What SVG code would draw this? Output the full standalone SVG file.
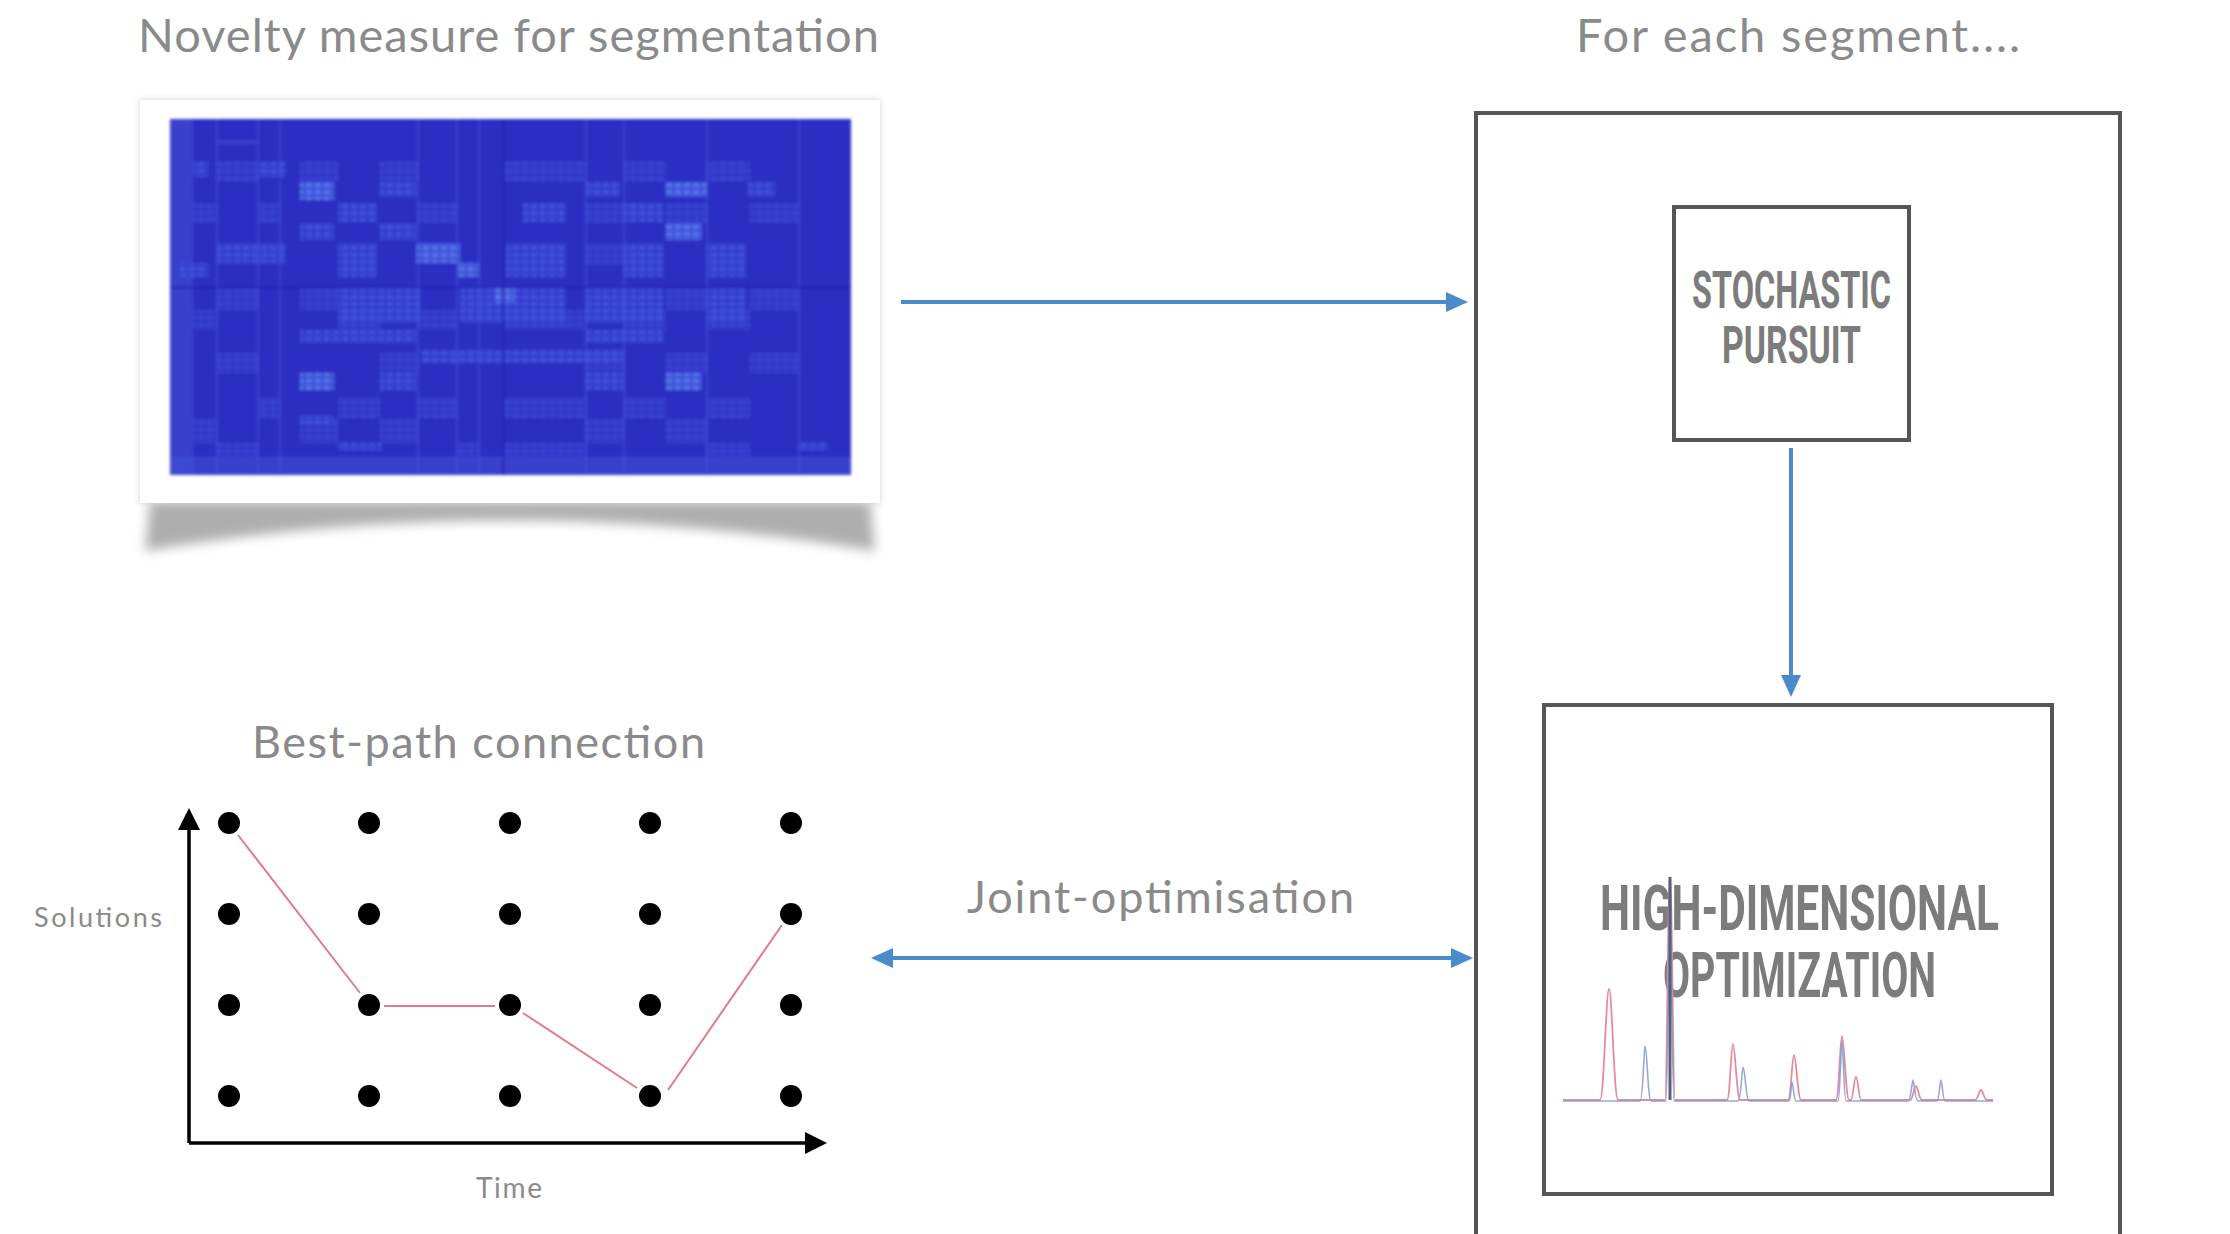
<svg xmlns="http://www.w3.org/2000/svg" width="2230" height="1234" viewBox="0 0 2230 1234">
<style>
.lbl{font-family:Lato,"Open Sans","Liberation Sans",sans-serif;fill:#8a8a8a}
.cond{font-family:Roboto,"DejaVu Sans","Liberation Sans",sans-serif;font-weight:bold;fill:#7c7c7c}
.box{fill:none;stroke:#555;stroke-width:4}
.blue{stroke:#4a8ccb;stroke-width:4;fill:none}
.axis{stroke:#000;stroke-width:3.5;fill:none}
.dot{fill:#000}
.path{stroke:#e07a8c;stroke-width:2;fill:none}
.hm1{fill:url(#cells);opacity:0.85}
.hm2{fill:url(#cellsb);opacity:0.85}
.hm3{fill:url(#cells);opacity:0.5}
.hml{fill:#4656dc;opacity:0.45}
</style>
<defs>
<marker id="ab" markerUnits="userSpaceOnUse" markerWidth="22" markerHeight="20" refX="0" refY="10" orient="auto-start-reverse"><path d="M0,0 L22,10 L0,20 Z" fill="#4a8ccb"/></marker>
<marker id="ak" markerUnits="userSpaceOnUse" markerWidth="22" markerHeight="22" refX="0" refY="11" orient="auto"><path d="M0,0 L22,11 L0,22 Z" fill="#000"/></marker>
<pattern id="cells" patternUnits="userSpaceOnUse" x="170" y="119" width="9" height="7"><rect width="9" height="7" fill="#3641d2"/><rect x="1" y="1" width="6" height="4" fill="#4556e0"/></pattern>
<pattern id="cellsb" patternUnits="userSpaceOnUse" x="170" y="119" width="9" height="7"><rect width="9" height="7" fill="#4559e2"/><rect x="1" y="1" width="6" height="4" fill="#5b80ee"/></pattern>
<filter id="blur6" x="-10%" y="-50%" width="120%" height="200%"><feGaussianBlur stdDeviation="6"/></filter>
<filter id="blur3" x="-5%" y="-5%" width="110%" height="110%"><feGaussianBlur stdDeviation="3"/></filter>
<filter id="blur1"><feGaussianBlur stdDeviation="1.4"/></filter>
</defs>
<rect width="2230" height="1234" fill="#fff"/>

<g id="title-novelty"><text class="lbl" x="138" y="52" font-size="47" textLength="741" lengthAdjust="spacing">Novelty measure for segmentation</text></g>
<g id="title-segment"><text class="lbl" x="1576" y="52" font-size="47" textLength="444" lengthAdjust="spacing">For each segment....</text></g>

<g id="novelty-image">
<path d="M150,500 L870,500 L875,551 Q510,490 145,551 Z" fill="#8c8c8c" filter="url(#blur6)" opacity="0.7"/>
<rect x="140" y="100" width="740" height="403" fill="#d0d0d0" filter="url(#blur3)"/>
<rect x="140" y="100" width="740" height="403" fill="#fff"/>
<g filter="url(#blur1)">
<rect x="170" y="119" width="681" height="356" fill="#2c2dc2"/>
<rect class="hml" x="170" y="119" width="23" height="356"/>
<rect class="hml" x="217" y="140" width="41" height="4"/>
<rect class="hm3" x="217" y="162" width="41" height="20"/><rect class="hm3" x="300" y="162" width="38" height="20"/><rect class="hm3" x="380" y="162" width="38" height="20"/><rect class="hm3" x="503" y="162" width="83" height="20"/><rect class="hm3" x="624" y="162" width="42" height="20"/><rect class="hm3" x="707" y="162" width="43" height="20"/>
<rect class="hm3" x="193" y="203" width="24" height="20"/><rect class="hm3" x="258" y="203" width="22" height="20"/><rect class="hm3" x="418" y="203" width="39" height="20"/><rect class="hm3" x="586" y="203" width="38" height="20"/><rect class="hm3" x="666" y="203" width="41" height="20"/><rect class="hm3" x="750" y="203" width="49" height="20"/>
<rect class="hm3" x="586" y="243" width="38" height="22"/>
<rect class="hm3" x="217" y="288" width="41" height="22"/><rect class="hm3" x="300" y="288" width="38" height="22"/><rect class="hm3" x="666" y="288" width="41" height="22"/><rect class="hm3" x="750" y="288" width="49" height="22"/>
<rect class="hm3" x="193" y="310" width="24" height="20"/><rect class="hm3" x="338" y="310" width="42" height="20"/><rect class="hm3" x="418" y="310" width="39" height="20"/><rect class="hm3" x="503" y="310" width="83" height="20"/><rect class="hm3" x="624" y="310" width="42" height="20"/><rect class="hm3" x="707" y="310" width="43" height="20"/>
<rect class="hm3" x="217" y="353" width="41" height="20"/><rect class="hm3" x="380" y="353" width="38" height="20"/><rect class="hm3" x="586" y="353" width="38" height="20"/><rect class="hm3" x="666" y="353" width="41" height="20"/><rect class="hm3" x="750" y="353" width="49" height="20"/>
<rect class="hm3" x="258" y="397" width="22" height="21"/><rect class="hm3" x="338" y="397" width="42" height="21"/><rect class="hm3" x="418" y="397" width="39" height="21"/><rect class="hm3" x="503" y="397" width="83" height="21"/><rect class="hm3" x="624" y="397" width="42" height="21"/><rect class="hm3" x="707" y="397" width="43" height="21"/>
<rect class="hm3" x="193" y="418" width="24" height="25"/><rect class="hm3" x="300" y="418" width="38" height="25"/><rect class="hm3" x="380" y="418" width="38" height="25"/><rect class="hm3" x="586" y="418" width="38" height="25"/><rect class="hm3" x="666" y="418" width="41" height="25"/>
<rect class="hm3" x="217" y="443" width="41" height="14"/><rect class="hm3" x="457" y="443" width="22" height="14"/><rect class="hm3" x="503" y="443" width="83" height="14"/><rect class="hm3" x="707" y="443" width="43" height="14"/>
<rect class="hm1" x="193" y="162" width="15" height="15"/>
<rect class="hm1" x="258" y="162" width="27" height="15"/>
<rect class="hm2" x="300" y="182" width="34" height="18"/>
<rect class="hm1" x="380" y="182" width="36" height="15"/>
<rect class="hm1" x="586" y="182" width="34" height="15"/>
<rect class="hm2" x="666" y="182" width="41" height="15"/>
<rect class="hm1" x="748" y="182" width="27" height="15"/>
<rect class="hm1" x="338" y="203" width="39" height="19"/>
<rect class="hm1" x="523" y="203" width="43" height="19"/>
<rect class="hm1" x="624" y="203" width="39" height="19"/>
<rect class="hm1" x="300" y="223" width="34" height="17"/>
<rect class="hm1" x="380" y="223" width="36" height="17"/>
<rect class="hm2" x="666" y="223" width="36" height="17"/>
<rect class="hm1" x="217" y="243" width="68" height="20"/>
<rect class="hm1" x="338" y="243" width="39" height="34"/>
<rect class="hm2" x="416" y="243" width="44" height="20"/>
<rect class="hm2" x="457" y="263" width="22" height="14"/>
<rect class="hm1" x="506" y="243" width="60" height="34"/>
<rect class="hm1" x="624" y="243" width="39" height="34"/>
<rect class="hm1" x="707" y="243" width="39" height="34"/>
<rect class="hm1" x="178" y="263" width="30" height="14"/>
<rect class="hm1" x="338" y="287" width="82" height="36"/>
<rect class="hm1" x="460" y="287" width="106" height="36"/>
<rect class="hm2" x="495" y="287" width="20" height="16"/>
<rect class="hm1" x="586" y="287" width="77" height="36"/>
<rect class="hm1" x="707" y="287" width="39" height="36"/>
<rect class="hm1" x="300" y="330" width="116" height="13"/>
<rect class="hm1" x="586" y="330" width="77" height="13"/>
<rect class="hm1" x="421" y="350" width="203" height="13"/>
<rect class="hm2" x="300" y="373" width="34" height="17"/>
<rect class="hm1" x="380" y="373" width="36" height="17"/>
<rect class="hm1" x="586" y="373" width="38" height="17"/>
<rect class="hm2" x="666" y="373" width="36" height="17"/>
<rect class="hm1" x="300" y="416" width="34" height="8"/>
<rect class="hm1" x="338" y="443" width="44" height="7"/>
<rect class="hm1" x="799" y="443" width="29" height="7"/>
<rect class="hml" x="170" y="457" width="681" height="18"/>
<rect class="hml" x="216" y="119" width="2" height="356"/>
<rect class="hml" x="257" y="119" width="2" height="356"/>
<rect class="hml" x="279" y="119" width="2" height="356"/>
<rect class="hml" x="417" y="119" width="2" height="356"/>
<rect class="hml" x="456" y="119" width="2" height="356"/>
<rect class="hml" x="478" y="119" width="2" height="356"/>
<rect class="hml" x="585" y="119" width="2" height="356"/>
<rect class="hml" x="623" y="119" width="2" height="356"/>
<rect class="hml" x="706" y="119" width="2" height="356"/>
<rect class="hml" x="798" y="119" width="2" height="356"/>
<rect x="502" y="119" width="3" height="356" fill="#2626b4" opacity="0.7"/>
<rect x="170" y="286" width="681" height="3" fill="#2626b4" opacity="0.7"/>
</g>
</g>

<g id="segment-box"><rect class="box" x="1476" y="113" width="644" height="1140"/></g>

<g id="stochastic-pursuit">
<rect class="box" x="1674" y="207" width="235" height="233" stroke-width="3.5"/>
<text class="cond" x="1791.5" y="308" font-size="51" text-anchor="middle" textLength="199" lengthAdjust="spacingAndGlyphs">STOCHASTIC</text>
<text class="cond" x="1791.5" y="363" font-size="51" text-anchor="middle" textLength="139" lengthAdjust="spacingAndGlyphs">PURSUIT</text>
</g>

<g id="high-dim-optimization">
<rect class="box" x="1544" y="705" width="508" height="489" stroke-width="3.5"/>
<text class="cond" x="1799.5" y="930" font-size="63" text-anchor="middle" textLength="399" lengthAdjust="spacingAndGlyphs">HIGH-DIMENSIONAL</text>
<text class="cond" x="1799.5" y="997" font-size="63" text-anchor="middle" textLength="273" lengthAdjust="spacingAndGlyphs">OPTIMIZATION</text>
<path d="M1563,1100 L1600,1100 C1604,1100 1606,989 1609,989 C1612,989 1614,1100 1618,1100 L1665,1100 C1667,1100 1668,877 1670,877 C1672,877 1673,1100 1675,1100 L1727,1100 C1730,1100 1731,1044 1733,1044 C1735,1044 1737,1100 1740,1100 L1788,1100 C1791,1100 1792,1055 1794,1055 C1796,1055 1798,1100 1801,1100 L1836,1100 C1839,1100 1840,1036 1842,1036 C1844,1036 1846,1100 1849,1100 L1851,1100 C1853,1100 1854,1077 1856,1077 C1858,1077 1859,1100 1861,1100 L1910,1100 C1913,1100 1914,1086 1916,1086 C1918,1086 1919,1100 1922,1100 L1975,1100 C1978,1100 1979,1090 1981,1090 C1983,1090 1984,1100 1987,1100 L1993,1100" fill="none" stroke="#e58c9c" stroke-width="1.8"/>
<path d="M1563,1101 L1640,1101 C1643,1101 1644,1046 1645,1046 C1647,1046 1648,1101 1651,1101 L1666,1101 C1668,1101 1669,877 1670,877 C1671,877 1672,1101 1674,1101 L1738,1101 C1741,1101 1742,1067 1743,1067 C1745,1067 1746,1101 1749,1101 L1789,1101 C1791,1101 1791,1082 1792,1082 C1793,1082 1794,1101 1796,1101 L1838,1101 C1840,1101 1841,1040 1842,1040 C1843,1040 1844,1101 1846,1101 L1908,1101 C1911,1101 1912,1080 1913,1080 C1914,1080 1915,1101 1918,1101 L1937,1101 C1939,1101 1940,1080 1941,1080 C1942,1080 1943,1101 1945,1101 L1993,1101" fill="none" stroke="#8299d4" stroke-width="1.6" opacity="0.85"/>
<line x1="1670" y1="877" x2="1670" y2="1100" stroke="#56607a" stroke-width="3"/>
</g>

<g id="best-path">
<text class="lbl" x="252" y="758" font-size="45" textLength="453" lengthAdjust="spacing">Best-path connection</text>
<text class="lbl" x="34" y="927" font-size="27" textLength="128" lengthAdjust="spacing">Solutions</text>
<text class="lbl" x="476" y="1198" font-size="28" textLength="66" lengthAdjust="spacing">Time</text>
<path class="axis" d="M189,1143 L805,1143" marker-end="url(#ak)"/>
<line class="axis" x1="189" y1="1143" x2="189" y2="830" marker-end="url(#ak)"/>
<g class="dot">
<circle cx="229" cy="823" r="11"/><circle cx="369" cy="823" r="11"/><circle cx="510" cy="823" r="11"/><circle cx="650" cy="823" r="11"/><circle cx="791" cy="823" r="11"/>
<circle cx="229" cy="914" r="11"/><circle cx="369" cy="914" r="11"/><circle cx="510" cy="914" r="11"/><circle cx="650" cy="914" r="11"/><circle cx="791" cy="914" r="11"/>
<circle cx="229" cy="1005" r="11"/><circle cx="369" cy="1005" r="11"/><circle cx="510" cy="1005" r="11"/><circle cx="650" cy="1005" r="11"/><circle cx="791" cy="1005" r="11"/>
<circle cx="229" cy="1096" r="11"/><circle cx="369" cy="1096" r="11"/><circle cx="510" cy="1096" r="11"/><circle cx="650" cy="1096" r="11"/><circle cx="791" cy="1096" r="11"/>
</g>
<g class="path">
<line x1="238" y1="835" x2="360" y2="993"/>
<line x1="384" y1="1006" x2="495" y2="1006"/>
<line x1="523" y1="1013" x2="637" y2="1088"/>
<line x1="668" y1="1090" x2="782" y2="925"/>
</g>
</g>

<g id="connectors">
<line class="blue" x1="901" y1="302" x2="1446" y2="302" marker-end="url(#ab)"/>
<line class="blue" x1="1791" y1="448" x2="1791" y2="675" marker-end="url(#ab)"/>
<line class="blue" x1="893" y1="958" x2="1451" y2="958" marker-start="url(#ab)" marker-end="url(#ab)"/>
<text class="lbl" x="967" y="913" font-size="45" textLength="387" lengthAdjust="spacing">Joint-optimisation</text>
</g>
</svg>
